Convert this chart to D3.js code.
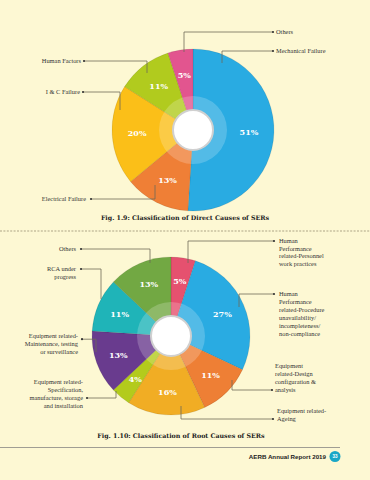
<!DOCTYPE html>
<html>
<head>
<meta charset="utf-8">
<script src="https://cdn.jsdelivr.net/npm/d3@7"></script>
<style>
  body { margin: 0; background: #fdf8d3; }
  svg { display: block; }
  .lbl { font-family: "Liberation Serif", "DejaVu Serif", serif; font-size: 6.4px; fill: #333; }
  .pct { font-family: "DejaVu Serif", serif; font-size: 8px; font-weight: bold; fill: #fff; }
  .ttl { font-family: "DejaVu Serif", serif; font-size: 6.3px; font-weight: bold; fill: #222; }
</style>
</head>
<body>
<div id="chart-area"></div>
<script>
// Fig 1.9 - direct causes
var directCats = ["Mechanical Failure", "Electrical Failure", "I & C Failure", "Human Factors", "Others"];
var directVals = [51, 13, 20, 11, 5];
var directColors = ["#29abe2", "#ef7f36", "#fbbf18", "#b1cb1e", "#e2558f"];

// Fig 1.10 - root causes
var rootCats = ["Human Performance related-Personnel work practices",
    "Human Performance related-Procedure unavailability/ incompleteness/ non-compliance",
    "Equipment related-Design configuration & analysis",
    "Equipment related-Ageing",
    "Equipment related-Specification, manufacture, storage and installation",
    "Equipment related-Maintenance, testing or surveillance",
    "RCA under progress",
    "Others"];
var rootVals = [5, 27, 11, 16, 4, 13, 11, 13];
var rootColors = ["#e5516f", "#29abe2", "#ee7f35", "#f1ad24", "#b3cb1c", "#693b8e", "#1fb4b8", "#72a843"];

var width = 370, height = 480;

var svg = d3.select("#chart-area")
    .append("svg")
    .attr("width", width)
    .attr("height", height);

// callout layout: text lines, text position, dot, elbow and end of the leader line
var directCallouts = [
    { lines: ["Mechanical Failure"], x: 276, y: 53, anchor: "start", dot: 273, elbow: 222, end: 63 },
    { lines: ["Electrical Failure"], x: 86, y: 201, anchor: "end", dot: 91, elbow: 155, end: 185 },
    { lines: ["I & C Failure"], x: 80, y: 94, anchor: "end", dot: 83, elbow: 120, end: 110 },
    { lines: ["Human Factors"], x: 81, y: 63, anchor: "end", dot: 84, elbow: 147, end: 73 },
    { lines: ["Others"], x: 276, y: 34, anchor: "start", dot: 273, elbow: 184, end: 52 }
];
var rootCallouts = [
    { lines: ["Human", "Performance", "related-Personnel", "work practices"], x: 279, y: 243, lh: 7.7, anchor: "start", dot: 274, dotLine: 0, elbow: 188, end: 263 },
    { lines: ["Human", "Performance", "related-Procedure", "unavailability/", "incompleteness/", "non-compliance"], x: 279, y: 296, lh: 8, anchor: "start", dot: 274, dotLine: 0, elbow: 239, end: 307 },
    { lines: ["Equipment", "related-Design", "configuration &", "analysis"], x: 275, y: 368, lh: 8, anchor: "start", dot: 272, dotLine: 3, elbow: 232, end: 380 },
    { lines: ["Equipment related-", "Ageing"], x: 277, y: 413, lh: 8, anchor: "start", dot: 273, dotLine: 1, elbow: 181, end: 406 },
    { lines: ["Equipment related-", "Specification,", "manufacture, storage", "and installation"], x: 83, y: 384, lh: 8, anchor: "end", dot: 87, dotLine: 2, elbow: 116, end: 391 },
    { lines: ["Equipment related-", "Maintenance, testing", "or surveillance"], x: 78, y: 338, lh: 8, anchor: "end", dot: 82, dotLine: 0.4, elbow: 96, end: 352 },
    { lines: ["RCA under", "progress"], x: 76, y: 271, lh: 8, anchor: "end", dot: 81, dotLine: 0, elbow: 101, end: 299 },
    { lines: ["Others"], x: 76, y: 251, lh: 8, anchor: "end", dot: 81, dotLine: 0, elbow: 150, end: 263 }
];

function donut(cx, cy, r, vals, colors, callouts) {
    var g = svg.append("g").attr("transform", "translate(" + cx + "," + cy + ")");
    var pie = d3.pie().sort(null).value(function(d){ return d; });
    var arcs = pie(vals);
    var arc = d3.arc().innerRadius(0).outerRadius(r);
    var labelArc = d3.arc().innerRadius(56).outerRadius(56);

    g.selectAll(".slice")
        .data(arcs)
        .enter().append("path")
        .attr("class", "slice")
        .attr("d", arc)
        .attr("fill", function(d, i){ return colors[i]; })
        .attr("stroke", "rgba(0,0,0,0.15)")
        .attr("stroke-width", 0.6);

    // translucent inner ring + white hole
    g.append("circle").attr("r", 34).attr("fill", "#fff").attr("fill-opacity", 0.2);
    g.append("circle").attr("r", 20).attr("fill", "#fff")
        .attr("stroke", "#d0d0d0").attr("stroke-width", 2);

    g.selectAll(".pct")
        .data(arcs)
        .enter().append("text")
        .attr("class", "pct")
        .attr("text-anchor", "middle")
        .attr("dy", "0.35em")
        .attr("transform", function(d){ return "translate(" + labelArc.centroid(d) + ")"; })
        .text(function(d){ return d.value + "%"; });

    // leader lines and labels
    callouts.forEach(function(c) {
        var lh = c.lh || 8;
        var ly = c.y + (c.dotLine || 0) * lh - 2;
        svg.append("path")
            .attr("d", "M" + c.dot + "," + ly + "H" + c.elbow + "V" + c.end)
            .attr("fill", "none")
            .attr("stroke", "#6f6a58")
            .attr("stroke-width", 0.8);
        svg.append("circle")
            .attr("cx", c.dot).attr("cy", ly).attr("r", 1.1)
            .attr("fill", "#333");
        var t = svg.append("text")
            .attr("class", "lbl")
            .attr("text-anchor", c.anchor);
        c.lines.forEach(function(s, i) {
            t.append("tspan").attr("x", c.x).attr("y", c.y + i * lh).text(s);
        });
    });
    return g;
}

donut(193, 130, 81, directVals, directColors, directCallouts);

svg.append("text")
    .attr("class", "ttl")
    .attr("x", 185).attr("y", 220)
    .attr("text-anchor", "middle")
    .text("Fig. 1.9: Classification of Direct Causes of SERs");

// dotted separator
svg.append("line")
    .attr("x1", 0).attr("x2", 370)
    .attr("y1", 231).attr("y2", 231)
    .attr("stroke", "#c7c0a0")
    .attr("stroke-width", 1.6)
    .attr("stroke-dasharray", "2,1.4");

donut(171, 336, 79, rootVals, rootColors, rootCallouts);

svg.append("text")
    .attr("class", "ttl")
    .attr("x", 181).attr("y", 438)
    .attr("text-anchor", "middle")
    .text("Fig. 1.10: Classification of Root Causes of SERs");

// footer
svg.append("line")
    .attr("x1", 0).attr("x2", 340)
    .attr("y1", 447.5).attr("y2", 447.5)
    .attr("stroke", "#777")
    .attr("stroke-width", 0.7);

svg.append("text")
    .attr("x", 326).attr("y", 459)
    .attr("text-anchor", "end")
    .attr("font-family", "'Liberation Sans', Arial, sans-serif")
    .attr("font-size", "6.2px")
    .attr("font-weight", "bold")
    .attr("fill", "#222")
    .text("AERB Annual Report 2019");

svg.append("circle")
    .attr("cx", 335).attr("cy", 456.5).attr("r", 5.5)
    .attr("fill", "#1aa7c6");
svg.append("text")
    .attr("x", 335).attr("y", 458.3)
    .attr("text-anchor", "middle")
    .attr("font-family", "'Liberation Sans', Arial, sans-serif")
    .attr("font-size", "4.5px")
    .attr("font-weight", "bold")
    .attr("fill", "#fff")
    .text("33");
</script>
</body>
</html>
